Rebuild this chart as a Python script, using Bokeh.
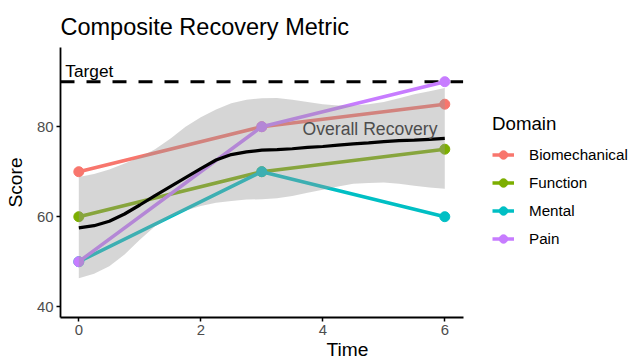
from bokeh.plotting import figure
from bokeh.models import (ColumnDataSource, Legend, LegendItem, Label, FixedTicker,
                          Range1d)
from bokeh.embed import file_html
from bokeh.resources import INLINE

# ---- data ----
time = [0, 3, 6]
biomechanical = [70, 80, 85]
function = [60, 70, 75]
mental = [50, 70, 60]
pain = [50, 80, 90]
domains = ["Biomechanical", "Function", "Mental", "Pain"]
domain_colors = ["#F8766D", "#7CAE00", "#00BFC4", "#C77CFF"]

smooth_x = [0, 0.25, 0.5, 0.75, 1.0, 1.25, 1.5, 1.75, 2.0, 2.25, 2.5, 2.75, 3.0,
            3.25, 3.5, 3.75, 4.0, 4.25, 4.5, 4.75, 5.0, 5.25, 5.5, 5.75, 6.0]
smooth_y = [57.5, 58.0, 59.0, 60.6, 62.6, 64.7, 66.7, 68.7, 70.7, 72.6, 73.8, 74.4, 74.8,
            74.9, 75.1, 75.4, 75.6, 75.9, 76.2, 76.4, 76.7, 76.9, 77.0, 77.2, 77.4]
smooth_hi = [68.8, 69.5, 70.5, 71.8, 73.2, 75.0, 77.3, 80.0, 82.1, 83.8, 85.2, 86.0, 86.3,
             86.4, 86.0, 85.5, 85.0, 84.7, 84.7, 85.0, 85.5, 86.3, 87.2, 87.9, 88.6]
smooth_lo = [46.3, 47.3, 49.0, 51.6, 54.9, 57.9, 59.9, 61.4, 62.4, 63.1, 63.5, 63.8, 63.9,
             64.1, 64.6, 65.3, 66.0, 66.7, 67.3, 67.5, 67.6, 67.3, 66.9, 66.5, 66.2]

target = 90
x_ticks = [0, 2, 4, 6]
y_ticks = [40, 60, 80]

# panel limits (ggplot-style expansion)
X_MIN, X_MAX = -0.3, 6.3
Y_MIN, Y_MAX = 37.6, 97.6

FONT = "Liberation Sans"

# the frame extends to the right edge so the legend can sit inside it;
# the x range is widened at the same scale
p = figure(width=634, height=363, output_backend="svg", toolbar_location=None,
           x_range=Range1d(X_MIN, 9.11), y_range=Range1d(Y_MIN, Y_MAX),
           min_border_left=60, min_border_top=47, min_border_bottom=46, min_border_right=0,
           title="Composite Recovery Metric")
p.outline_line_color = None
p.grid.visible = False
p.background_fill_color = "white"
p.border_fill_color = "white"

p.title.text_font = FONT
p.title.text_font_size = "23.5px"
p.title.text_font_style = "normal"
p.title.text_color = "black"
p.title.align = "left"
p.title.standoff = 16

# target line (under data), spans the panel
p.line([X_MIN, X_MAX], [target, target], line_color="black", line_width=3, line_dash="14 12")

series = [biomechanical, function, mental, pain]
items = []
for name, vals, col in zip(domains, series, domain_colors):
    src = ColumnDataSource(dict(x=time, y=vals))
    r1 = p.line("x", "y", source=src, line_color=col, line_width=3.5)
    r2 = p.scatter("x", "y", source=src, size=10, fill_color=col, line_color=col)
    items.append(LegendItem(label=name, renderers=[r1, r2]))

# smoother ribbon and line
sm = ColumnDataSource(dict(x=smooth_x, y=smooth_y, lo=smooth_lo, hi=smooth_hi))
p.varea(x="x", y1="lo", y2="hi", source=sm, fill_color="#999999", fill_alpha=0.4)
p.line("x", "y", source=sm, line_color="black", line_width=3.2)

p.add_layout(Label(x=-0.221, y=92.44, text="Target", text_font=FONT,
                   text_font_size="17.3px", text_color="black",
                   text_baseline="middle", text_align="left"))
p.add_layout(Label(x=5.88, y=79.56, text="Overall Recovery", text_font=FONT,
                   text_font_size="17.6px", text_color="#4D4D4D",
                   text_baseline="middle", text_align="right"))

# axes
for ax in (p.xaxis[0], p.yaxis[0]):
    ax.axis_line_color = "black"
    ax.axis_line_width = 1.8
    ax.major_tick_line_color = "black"
    ax.major_tick_line_width = 1.5
    ax.major_tick_out = 4
    ax.major_tick_in = 0
    ax.minor_tick_line_color = None
    ax.major_label_text_font = FONT
    ax.major_label_text_font_size = "14.9px"
    ax.major_label_text_color = "#4D4D4D"
    ax.axis_label_text_font = FONT
    ax.axis_label_text_font_size = "19.2px"
    ax.axis_label_text_font_style = "normal"
    ax.axis_label_text_color = "black"
    ax.major_label_standoff = 3

p.xaxis[0].ticker = FixedTicker(ticks=x_ticks)
p.yaxis[0].ticker = FixedTicker(ticks=y_ticks)
p.xaxis[0].bounds = (X_MIN, X_MAX)
p.xaxis[0].axis_label = "Time"
p.yaxis[0].axis_label = "Score"
p.xaxis[0].axis_label_standoff = 1
p.yaxis[0].axis_label_standoff = 8

legend = Legend(items=items, title="Domain", location=(432, 68),
                title_text_font=FONT, title_text_font_size="18.7px",
                title_text_font_style="normal", title_text_color="black",
                title_standoff=9,
                label_text_font=FONT, label_text_font_size="15.2px",
                label_text_color="black",
                glyph_width=22, glyph_height=21, spacing=7,
                label_standoff=15, label_height=21,
                border_line_color=None, background_fill_alpha=0,
                padding=0, margin=0)
p.add_layout(legend, "center")

open("out.html", "w").write(file_html(p, INLINE))
